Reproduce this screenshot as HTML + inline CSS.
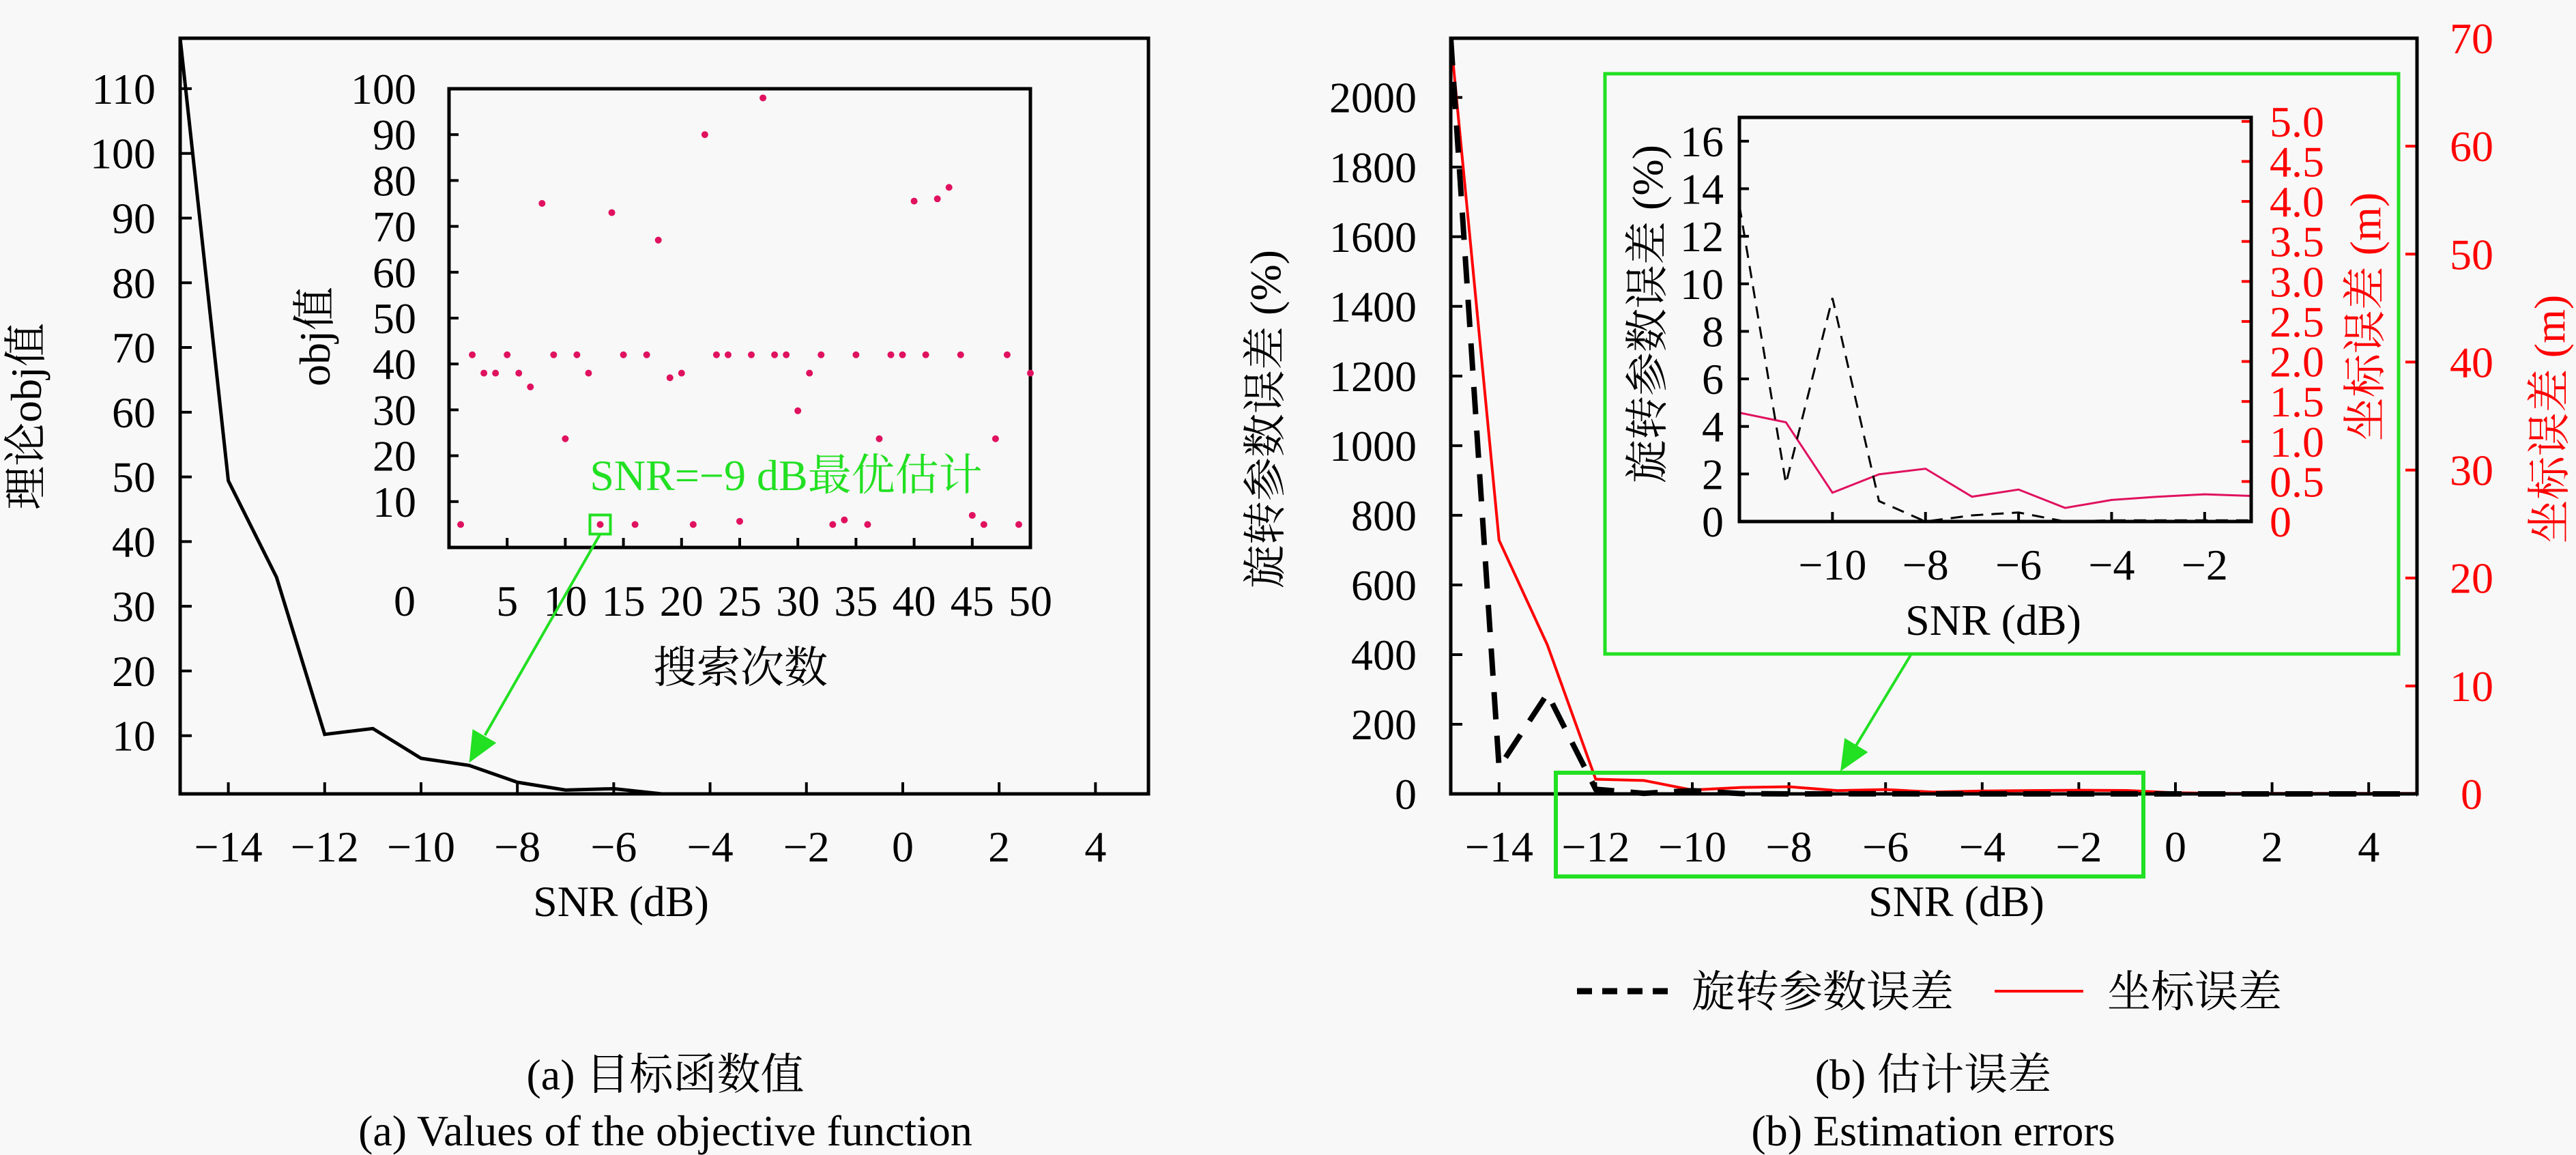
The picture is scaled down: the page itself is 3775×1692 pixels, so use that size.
<!DOCTYPE html>
<html><head><meta charset="utf-8"><style>
html,body{margin:0;padding:0;background:#f8f8f8}
svg{display:block}
text{font-family:"Liberation Serif","Noto Serif CJK SC","Noto Sans CJK SC",serif;fill:#000}
</style></head><body>
<svg id="svg" width="3775" height="1692" viewBox="0 0 3775 1692" xmlns="http://www.w3.org/2000/svg">
<rect width="3775" height="1692" fill="#f8f8f8"/>
<g id="ga"></g>
<g id="gb"></g>
</svg>
<script>
// Chart (a) main
const snrA = [-15,-14,-13,-12,-11,-10,-9,-8,-7,-6,-5,-4,-3,-2,-1,0,1,2,3,4,5];
const objA = [117.8,49.4,34.5,10.2,11.1,6.5,5.4,2.8,1.6,1.8,1.0,1,1,1,1,1,1,1,1,1,1];
const xTicksA = [-14,-12,-10,-8,-6,-4,-2,0,2,4];
const yTicksA = [10,20,30,40,50,60,70,80,90,100,110];
// Chart (a) inset scatter
const searchIdx = [1,2,3,4,5,6,7,8,9,10,11,12,13,14,15,16,17,18,19,20,21,22,23,24,25,26,27,28,29,30,31,32,33,34,35,36,37,38,39,40,41,42,43,44,45,46,47,48,49,50];
const searchObj = [5,42,38,38,42,38,35,75,42,23.7,42,38,5,73,42,5,42,67,37,38,5,90,42,42,5.7,42,98,42,42,29.8,38,42,5,6,42,5,23.7,42,42,75.5,42,76,78.5,42,7,5,23.7,42,5,38];
const xTicksIn = [5,10,15,20,25,30,35,40,45,50];
const yTicksIn = [10,20,30,40,50,60,70,80,90,100];
// Chart (b)
const snrB = [-15,-14,-13,-12,-11,-10,-9,-8,-7,-6,-5,-4,-3,-2,-1,0,1,2,3,4,5];
const rotErr = [2170,76,288,13.3,1.6,9.4,0.86,0,0.26,0.38,0,0.05,0.05,0.05,0.05,0,0,0,0,0,0];
const posErr = [70,23.5,13.8,1.36,1.24,0.36,0.59,0.66,0.31,0.40,0.17,0.27,0.31,0.34,0.32,0.1,0.05,0.05,0.05,0.05,0.05];
const xTicksB = [-14,-12,-10,-8,-6,-4,-2,0,2,4];
const yTicksBL = [0,200,400,600,800,1000,1200,1400,1600,1800,2000];
const yTicksBR = [0,10,20,30,40,50,60,70];
const snrIn = [-12,-11,-10,-9,-8,-7,-6,-5,-4,-3,-2,-1];
const xTicksBIn = [-10,-8,-6,-4,-2];
const yTicksBInL = [0,2,4,6,8,10,12,14,16];
const yTicksBInR = ["0","0.5","1.0","1.5","2.0","2.5","3.0","3.5","4.0","4.5","5.0"];

const NS="http://www.w3.org/2000/svg";
function el(parent,tag,attrs,txt){const e=document.createElementNS(NS,tag);for(const k in attrs)e.setAttribute(k,attrs[k]);if(txt!==undefined)e.textContent=txt;parent.appendChild(e);return e;}
function lin(d0,d1,r0,r1){return v=>r0+(v-d0)/(d1-d0)*(r1-r0);}
function fmt(v){return v<0?'\u2212'+(-v):String(v);}
const FS=64;

// ---------- Chart A ----------
const ga=document.getElementById('ga');
{
const L=264,R=1683,T=56,B=1163;
const x=lin(-15,5.1,L,R), y=lin(1,117.8,B,T);
let e=el(ga,'rect',{x:L,y:T,width:R-L,height:B-T,fill:'none',stroke:'#000','stroke-width':5});

xTicksA.forEach(t=>{
  let tk=el(ga,'line',{x1:x(t),x2:x(t),y1:B,y2:B-17,stroke:'#000','stroke-width':4});
  
  let lb=el(ga,'text',{x:x(t),y:1262,'font-size':FS,'text-anchor':'middle'},fmt(t));
  
});
yTicksA.forEach(t=>{
  let tk=el(ga,'line',{x1:L,x2:L+17,y1:y(t),y2:y(t),stroke:'#000','stroke-width':4});
  
  let lb=el(ga,'text',{x:228,y:y(t)+22,'font-size':FS,'text-anchor':'end'},String(t));
  
});
let pts=snrA.map((s,i)=>x(s)+','+y(objA[i])).join(' ');
let pl=el(ga,'polyline',{points:pts,fill:'none',stroke:'#000','stroke-width':5});

let yt=el(ga,'text',{x:0,y:0,'font-size':FS,'text-anchor':'middle',transform:'translate(60,610) rotate(-90)'},'理论obj值');

let xt=el(ga,'text',{x:910,y:1342,'font-size':FS,'text-anchor':'middle'},'SNR (dB)');


// inset
const iL=658,iR=1510,iT=130,iB=802;
const xi=lin(0,50,iL,iR), yi=lin(0,100,iB,iT);
let f=el(ga,'rect',{x:iL,y:iT,width:iR-iL,height:iB-iT,fill:'none',stroke:'#000','stroke-width':5});

xTicksIn.forEach(t=>{
  let tk=el(ga,'line',{x1:xi(t),x2:xi(t),y1:iB,y2:iB-14,stroke:'#000','stroke-width':4});
  
  let lb=el(ga,'text',{x:xi(t),y:902,'font-size':FS,'text-anchor':'middle'},String(t));
  
});
let z=el(ga,'text',{x:593,y:902,'font-size':FS,'text-anchor':'middle'},'0');

yTicksIn.forEach(t=>{
  let tk=el(ga,'line',{x1:iL,x2:iL+14,y1:yi(t),y2:yi(t),stroke:'#000','stroke-width':4});
  
  let lb=el(ga,'text',{x:610,y:yi(t)+22,'font-size':FS,'text-anchor':'end'},String(t));
  
});
searchIdx.forEach((s,i)=>{
  let c=el(ga,'circle',{cx:xi(s),cy:yi(searchObj[i]),r:5,fill:'#e0115f'});
  
});
let it=el(ga,'text',{x:0,y:0,'font-size':FS,'text-anchor':'middle',transform:'translate(483,493) rotate(-90)'},'obj值');

let ix=el(ga,'text',{x:1085,y:1000,'font-size':FS,'text-anchor':'middle'},'搜索次数');

let gl=el(ga,'text',{x:1152,y:718,'font-size':FS,'text-anchor':'middle',style:'fill:#22e022'},'SNR=\u22129 dB最优估计');

let gs=el(ga,'rect',{x:xi(13)-15,y:yi(5)-14,width:30,height:28,fill:'none',stroke:'#22e022','stroke-width':4});

const ax0=xi(13),ay0=yi(5)+14,ax1=x(-9),ay1=y(5.4)-4;
let al=el(ga,'line',{x1:ax0,y1:ay0,x2:ax1+(ax0-ax1)*0.12,y2:ay1+(ay0-ay1)*0.12,stroke:'#22e022','stroke-width':4});

const ang=Math.atan2(ay1-ay0,ax1-ax0),hl=45,hw=20;
const bx=ax1-hl*Math.cos(ang),by=ay1-hl*Math.sin(ang);
let ah=el(ga,'polygon',{points:`${ax1},${ay1} ${bx-hw*Math.sin(ang)},${by+hw*Math.cos(ang)} ${bx+hw*Math.sin(ang)},${by-hw*Math.cos(ang)}`,fill:'#22e022'});

let c1=el(ga,'text',{x:975,y:1596,'font-size':FS,'text-anchor':'middle'},'(a) 目标函数值');

let c2=el(ga,'text',{x:975,y:1678,'font-size':FS,'text-anchor':'middle'},'(a) Values of the objective function');

}

// ---------- Chart B ----------
const gb=document.getElementById('gb');
{
const L=2126,R=3542,T=56,B=1163;
const x=lin(-15,5,L,R), yl=lin(0,2170,B,T), yr=lin(0,70,B,T);
let clip=el(gb,'clipPath',{id:'cb'});el(clip,'rect',{x:L,y:T-4,width:R-L,height:B-T+8});
xTicksB.forEach(t=>{
  let tk=el(gb,'line',{x1:x(t),x2:x(t),y1:B,y2:B-17,stroke:'#000','stroke-width':4});
  
  let lb=el(gb,'text',{x:x(t),y:1262,'font-size':FS,'text-anchor':'middle'},fmt(t));
  
});
yTicksBL.forEach(t=>{
  let tk=el(gb,'line',{x1:L,x2:L+17,y1:yl(t),y2:yl(t),stroke:'#000','stroke-width':4});
  
  let lb=el(gb,'text',{x:2076,y:yl(t)+22,'font-size':FS,'text-anchor':'end'},String(t));
  
});
yTicksBR.forEach(t=>{
  let tk=el(gb,'line',{x1:R,x2:R-17,y1:yr(t),y2:yr(t),stroke:'#ff0000','stroke-width':4});
  
  let lb=el(gb,'text',{x:3622,y:yr(t)+22,'font-size':FS,'text-anchor':'middle',style:'fill:#ff0000'},String(t));
  
});
let rl=el(gb,'polyline',{points:snrB.map((s,i)=>x(s)+','+yr(posErr[i])).join(' '),fill:'none',stroke:'#ff0000','stroke-width':4,'clip-path':'url(#cb)'});

let dl=el(gb,'polyline',{points:snrB.map((s,i)=>x(s)+','+yl(rotErr[i])).join(' '),fill:'none',stroke:'#000','stroke-width':8,'stroke-dasharray':'40 24','clip-path':'url(#cb)'});

let f=el(gb,'rect',{x:L,y:T,width:R-L,height:B-T,fill:'none',stroke:'#000','stroke-width':5});

let ylt=el(gb,'text',{x:0,y:0,'font-size':FS,'text-anchor':'middle',transform:'translate(1876,614) rotate(-90)'},'旋转参数误差 (%)');

let yrt=el(gb,'text',{x:0,y:0,'font-size':FS,'text-anchor':'middle',style:'fill:#ff0000',transform:'translate(3758,614) rotate(-90)'},'坐标误差 (m)');

let xt=el(gb,'text',{x:2867,y:1342,'font-size':FS,'text-anchor':'middle'},'SNR (dB)');


// green boxes + arrow
let gb1=el(gb,'rect',{x:2352,y:108,width:1163,height:850,fill:'#f8f8f8',stroke:'#22e022','stroke-width':5});

let gb2=el(gb,'rect',{x:2280,y:1132,width:861,height:152,fill:'none',stroke:'#22e022','stroke-width':6});

const ax0=2801,ay0=958,ax1=2697,ay1=1130;
let al=el(gb,'line',{x1:ax0,y1:ay0,x2:2714,y2:1102,stroke:'#22e022','stroke-width':4});

const ang=Math.atan2(ay1-ay0,ax1-ax0),hl=45,hw=20;
const bx=ax1-hl*Math.cos(ang),by=ay1-hl*Math.sin(ang);
let ah=el(gb,'polygon',{points:`${ax1},${ay1} ${bx-hw*Math.sin(ang)},${by+hw*Math.cos(ang)} ${bx+hw*Math.sin(ang)},${by-hw*Math.cos(ang)}`,fill:'#22e022'});


// inset
const iL=2549,iR=3299,iT=172,iB=764;
const xi=lin(-12,-1,iL,iR), yil=lin(0,17,iB,iT), yir=lin(0,5.05,iB,iT);
let c2=el(gb,'clipPath',{id:'cbi'});el(c2,'rect',{x:iL,y:iT,width:iR-iL,height:iB-iT});
xTicksBIn.forEach(t=>{
  let tk=el(gb,'line',{x1:xi(t),x2:xi(t),y1:iB,y2:iB-14,stroke:'#000','stroke-width':4});
  
  let lb=el(gb,'text',{x:xi(t),y:849,'font-size':FS,'text-anchor':'middle'},fmt(t));
  
});
yTicksBInL.forEach(t=>{
  let tk=el(gb,'line',{x1:iL,x2:iL+14,y1:yil(t),y2:yil(t),stroke:'#000','stroke-width':4});
  
  let lb=el(gb,'text',{x:2526,y:yil(t)+22,'font-size':FS,'text-anchor':'end'},String(t));
  
});
yTicksBInR.forEach(t=>{
  const v=parseFloat(t);
  let tk=el(gb,'line',{x1:iR,x2:iR-14,y1:yir(v),y2:yir(v),stroke:'#ff0000','stroke-width':4});
  
  let lb=el(gb,'text',{x:3326,y:yir(v)+22,'font-size':FS,'text-anchor':'start',style:'fill:#ff0000'},t);
  
});
let ir=el(gb,'polyline',{points:snrIn.map((s,i)=>xi(s)+','+yir(posErr[i+3])).join(' '),fill:'none',stroke:'#e0115f','stroke-width':3,'clip-path':'url(#cbi)'});

let id=el(gb,'polyline',{points:snrIn.map((s,i)=>xi(s)+','+yil(rotErr[i+3])).join(' '),fill:'none',stroke:'#000','stroke-width':3,'stroke-dasharray':'18 12','clip-path':'url(#cbi)'});

let fi=el(gb,'rect',{x:iL,y:iT,width:iR-iL,height:iB-iT,fill:'none',stroke:'#000','stroke-width':5});

let t1=el(gb,'text',{x:0,y:0,'font-size':FS,'text-anchor':'middle',transform:'translate(2436,460) rotate(-90)'},'旋转参数误差 (%)');

let t2=el(gb,'text',{x:0,y:0,'font-size':FS,'text-anchor':'middle',style:'fill:#ff0000',transform:'translate(3488,464) rotate(-90)'},'坐标误差 (m)');

let t3=el(gb,'text',{x:2921,y:930,'font-size':FS,'text-anchor':'middle'},'SNR (dB)');


// legend
let lg1=el(gb,'line',{x1:2311,x2:2445,y1:1452,y2:1452,stroke:'#000','stroke-width':9,'stroke-dasharray':'22 15'});

let lt1=el(gb,'text',{x:2479,y:1475,'font-size':FS},'旋转参数误差');

let lg2=el(gb,'line',{x1:2923,x2:3053,y1:1452,y2:1452,stroke:'#ff0000','stroke-width':4});

let lt2=el(gb,'text',{x:3088,y:1475,'font-size':FS},'坐标误差');

let c3=el(gb,'text',{x:2833,y:1596,'font-size':FS,'text-anchor':'middle'},'(b) 估计误差');

let c4=el(gb,'text',{x:2833,y:1678,'font-size':FS,'text-anchor':'middle'},'(b) Estimation errors');

}
</script>
</body></html>
